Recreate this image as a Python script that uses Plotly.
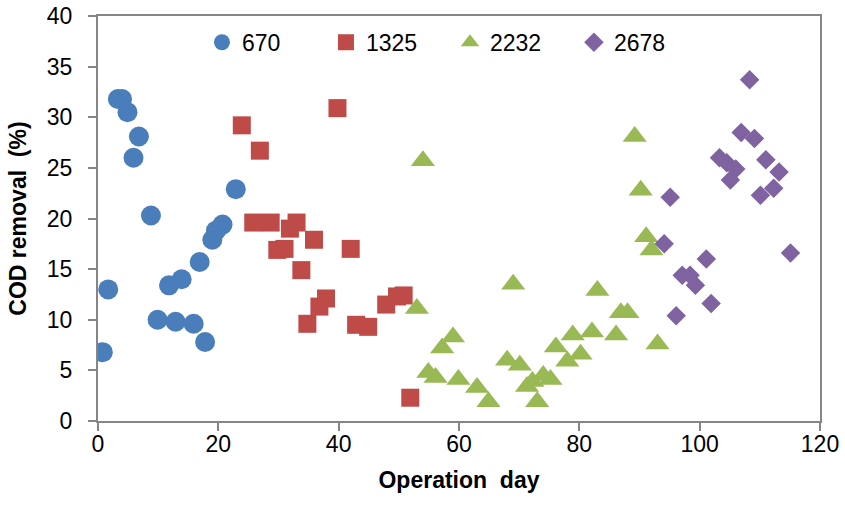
import plotly.graph_objects as go

# ---- data (operation day, COD removal %) ----
s670_x = [0.8, 1.7, 3.3, 4.0, 4.9, 5.9, 6.8, 8.8, 9.9, 11.8, 12.9, 13.9, 15.9, 16.9, 17.8, 19.0, 19.6, 20.7, 22.9]
s670_y = [6.8, 13.0, 31.8, 31.8, 30.5, 26.0, 28.1, 20.3, 10.0, 13.4, 9.8, 14.0, 9.6, 15.7, 7.8, 17.9, 18.8, 19.4, 22.9]

s1325_x = [23.9, 25.8, 26.9, 28.7, 29.8, 31.0, 31.9, 33.0, 33.8, 34.8, 35.9, 36.8, 37.9, 39.8, 42.0, 42.9, 44.9, 47.9, 49.7, 50.8, 51.9]
s1325_y = [29.2, 19.6, 26.7, 19.6, 16.9, 17.0, 19.0, 19.6, 14.9, 9.6, 17.9, 11.3, 12.1, 30.9, 17.0, 9.5, 9.3, 11.5, 12.3, 12.4, 2.3]

s2232_x = [53.0, 54.0, 54.9, 56.1, 57.2, 59.0, 59.9, 63.0, 64.9, 68.0, 69.0, 70.1, 71.3, 72.2, 73.0, 74.0, 75.2, 76.1,
           78.0, 78.9, 80.2, 82.1, 83.0, 86.1, 86.9, 88.0, 89.2, 90.2, 91.1, 92.0, 93.0]
s2232_y = [11.1, 25.7, 4.8, 4.3, 7.2, 8.3, 4.1, 3.3, 1.9, 6.0, 13.5, 5.5, 3.4, 3.9, 1.9, 4.5, 4.1, 7.3,
           5.9, 8.5, 6.6, 8.8, 12.9, 8.5, 10.7, 10.7, 28.1, 22.8, 18.2, 16.9, 7.6]

s2678_x = [94.1, 95.1, 96.1, 97.1, 98.4, 99.3, 101.1, 101.9, 103.3, 104.5, 105.1, 106.0, 106.9, 108.3, 109.1, 110.1,
           111.0, 112.3, 113.2, 115.1]
s2678_y = [17.5, 22.1, 10.4, 14.4, 14.4, 13.4, 16.0, 11.6, 26.0, 25.5, 23.8, 24.9, 28.5, 33.7, 27.9, 22.3,
           25.8, 23.0, 24.6, 16.6]

series_names = ["670", "1325", "2232", "2678"]
x_ticks = [0, 20, 40, 60, 80, 100, 120]
y_ticks = [0, 5, 10, 15, 20, 25, 30, 35, 40]

colors = ["#4A7EBB", "#BE4B48", "#98B954", "#7F63A1"]
symbols = ["circle", "square", "triangle-up", "diamond"]
sizes = [20, 18, 21, 15]
xs = [s670_x, s1325_x, s2232_x, s2678_x]
ys = [s670_y, s1325_y, s2232_y, s2678_y]

fig = go.Figure()
for name, x, y, c, s, sz in zip(series_names, xs, ys, colors, symbols, sizes):
    fig.add_trace(go.Scatter(
        x=x, y=y, mode="markers", name=name,
        marker=dict(color=c, symbol=s, size=sz, line=dict(width=0)),
    ))

font_family = "Liberation Sans, Arial, sans-serif"
axis_col = "#868686"

fig.update_layout(
    width=845, height=524,
    paper_bgcolor="white", plot_bgcolor="white",
    margin=dict(l=98, r=25, t=16, b=103),
    font=dict(family=font_family, size=23, color="black"),
    showlegend=True,
    legend=dict(
        orientation="h", x=0.144, y=0.935, xanchor="left", yanchor="middle",
        font=dict(size=23, family=font_family),
        bgcolor="rgba(0,0,0,0)",
        entrywidth=79, entrywidthmode="pixels",
        itemclick=False,
    ),
    xaxis=dict(
        range=[0, 120], tickvals=x_ticks, ticktext=[str(v) for v in x_ticks],
        showgrid=False, zeroline=False, automargin=False,
        showline=True, linecolor=axis_col, linewidth=2, mirror=True,
        ticks="outside", ticklen=8, tickwidth=2, tickcolor=axis_col,
        tickfont=dict(size=23), ticklabelstandoff=-7,
        title=dict(text="<b>Operation  day</b>", font=dict(size=23), standoff=16),
    ),
    yaxis=dict(
        range=[0, 40], tickvals=y_ticks, ticktext=[str(v) for v in y_ticks],
        showgrid=False, zeroline=False, automargin=False,
        showline=True, linecolor=axis_col, linewidth=2, mirror=True,
        ticks="outside", ticklen=8, tickwidth=2, tickcolor=axis_col,
        tickfont=dict(size=23), ticklabelstandoff=11,
        title=dict(text="<b>COD removal  (%)</b>", font=dict(size=23), standoff=14),
    ),
)

fig.write_html(
    "out.html",
    config={"displayModeBar": False},
    post_script="document.body.style.margin='0';document.body.style.overflow='hidden';",
)
